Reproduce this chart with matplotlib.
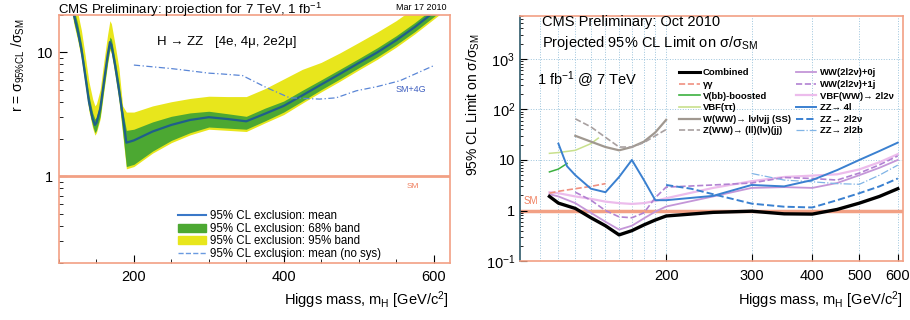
import numpy as np
import matplotlib.pyplot as plt
from matplotlib.lines import Line2D
from matplotlib.patches import Patch
from matplotlib.ticker import FixedLocator, NullFormatter, NullLocator

plt.rcParams['font.family'] = ['Liberation Sans', 'DejaVu Sans']
plt.rcParams['mathtext.default'] = 'regular'

# ---------------- left panel data: H -> ZZ projection ----------------
mass_zz = [115, 120, 125, 130, 135, 140, 145, 148, 150, 155, 160, 165, 168, 170, 175, 180,
           185, 190, 200, 225, 250, 275, 300, 325, 350, 375, 400, 425, 450, 475, 500, 525,
           550, 575, 600, 620]
r_mean = [30, 20, 15, 10.5, 6.5, 4.0, 2.9, 2.6, 2.7, 3.5, 5.8, 9.5, 12.1, 11.5, 7.8, 5.0,
          3.1, 1.87, 1.95, 2.3, 2.6, 2.85, 3.0, 2.9, 2.78, 3.2, 3.7, 4.5, 5.5, 6.7, 8.2, 10.0,
          12.5, 16, 21, 26]
r68_lo = [26, 17.5, 13, 9.2, 5.7, 3.5, 2.55, 2.25, 2.35, 3.05, 5.1, 8.4, 10.8, 10.2, 6.8, 4.3,
          2.3, 1.2, 1.25, 1.6, 1.95, 2.25, 2.5, 2.45, 2.4, 2.8, 3.3, 4.05, 5.0, 6.1, 7.5, 9.2,
          11.5, 14.7, 19.3, 24]
r68_hi = [34, 22.5, 17, 11.8, 7.3, 4.5, 3.25, 2.9, 3.0, 3.9, 6.5, 10.5, 13.3, 12.8, 8.7, 5.7,
          3.4, 2.35, 2.4, 2.75, 3.05, 3.25, 3.35, 3.2, 3.05, 3.55, 4.05, 4.95, 6.0, 7.3, 8.9, 10.9,
          13.6, 17.4, 22.8, 28]
r95_lo = [25, 16.8, 12.5, 8.8, 5.5, 3.35, 2.45, 2.15, 2.25, 2.9, 4.9, 8.1, 10.4, 9.8, 6.5, 4.1,
          2.2, 1.15, 1.2, 1.54, 1.87, 2.16, 2.4, 2.35, 2.3, 2.7, 3.15, 3.9, 4.8, 5.85, 7.2, 8.8,
          11, 14.1, 18.5, 23]
r95_hi = [42, 28, 21, 15, 9.4, 5.8, 4.2, 3.7, 3.85, 5.0, 8.5, 14, 18, 17, 11.5, 7.5,
          3.7, 3.3, 3.3, 3.7, 4.0, 4.25, 4.43, 4.4, 4.4, 5.1, 6.1, 7.3, 8.3, 9.9, 12, 14.6,
          18, 23, 30, 37]
mass_4g = [200, 250, 275, 300, 317, 345, 377, 408, 448, 470, 497, 525, 555, 600]
r_4g = [7.9, 7.4, 7.1, 6.8, 6.7, 6.5, 5.2, 4.3, 4.2, 4.3, 4.9, 5.3, 5.9, 7.8]

# ---------------- right panel data: combined projection ----------------
m_comb = [115, 120, 130, 140, 150, 160, 170, 180, 190, 200, 250, 300, 350, 400, 450, 500, 550, 600]
comb = [1.9, 1.4, 1.1, 0.72, 0.5, 0.33, 0.4, 0.52, 0.65, 0.78, 0.92, 0.97, 0.86, 0.85, 1.05, 1.4, 1.9, 2.7]
m_gg = [115, 120, 125, 130, 135, 140, 145, 150]
gg = [2.2, 2.4, 2.55, 2.7, 2.85, 3.0, 3.2, 3.4]
m_vbb = [115, 120, 125]
vbb = [5.8, 6.6, 8.5]
m_vbftt = [115, 120, 130, 140, 145]
vbftt = [13.5, 14, 15.5, 21, 27]
m_wss = [130, 140, 150, 160, 170, 180, 190, 200]
wss = [30, 23, 18, 15.5, 18, 23, 35, 62]
m_zww = [130, 140, 150, 160, 170, 180, 190, 200]
zww = [65, 45, 28, 18, 18, 22, 30, 40]
m_ww = [115, 120, 130, 140, 150, 160, 170, 180, 190, 200, 250, 300, 350, 400, 450, 500, 550, 600]
ww0j = [2.1, 1.9, 1.4, 0.9, 0.6, 0.42, 0.5, 0.7, 0.95, 1.2, 1.9, 2.8, 2.9, 2.8, 3.5, 5, 7, 10]
vbfww = [2.3, 2.2, 1.9, 1.7, 1.5, 1.4, 1.35, 1.4, 1.55, 1.75, 2.8, 3.8, 4.6, 4.9, 5.2, 6.5, 9, 13]
m_ww1j = [130, 140, 150, 160, 170, 180, 190, 200, 250, 300, 350, 400, 450, 500, 550, 600]
ww1j = [2.3, 1.6, 1.0, 0.75, 0.72, 0.9, 1.8, 2.9, 3.2, 3.5, 4.5, 4.3, 4.0, 5.5, 8, 12]
m_zz4l = [120, 125, 130, 140, 150, 160, 170, 180, 190, 200, 250, 300, 350, 400, 450, 500, 550, 600]
zz4l = [21, 7.5, 5, 2.7, 2.3, 4.6, 10, 4, 1.6, 1.6, 1.95, 3.2, 3.0, 4.0, 6.3, 10, 15, 22]
m_zz2l2v = [200, 225, 250, 300, 350, 400, 450, 500, 550, 600]
zz2l2v = [3.2, 2.7, 2.1, 1.37, 1.19, 1.15, 1.6, 2.2, 3.0, 4.3]
m_zz2l2b = [300, 350, 400, 450, 500, 550, 600]
zz2l2b = [5.4, 4.0, 3.7, 3.4, 3.3, 5.0, 7.9]

grid_x = [110, 120, 130, 140, 150, 160, 170, 180, 190, 200, 300, 400, 500, 600]

salmon = '#f2a084'

fig = plt.figure(figsize=(9.1, 3.2), dpi=100)

# ================= left panel =================
ax = fig.add_axes([0.0648, 0.178, 0.4297, 0.775])
ax.fill_between(mass_zz, r95_lo, r95_hi, color='#e8e61c', lw=0)
ax.fill_between(mass_zz, r68_lo, r68_hi, color='#4ca832', lw=0)
ax.plot(mass_zz, r_mean, color='#1f5f8a', lw=1.6)
ax.plot(mass_4g, r_4g, color='#5a86d6', lw=0.9, ls=(0, (5, 2, 1, 2)))
ax.axhline(1, color=salmon, lw=2)
ax.set_yscale('log')
ax.set_xlim(100, 622)
ax.set_ylim(0.2, 20)
ax.set_xticks([200, 400, 600])
ax.set_xticks(np.arange(100, 601, 50), minor=True)
ax.yaxis.set_major_locator(FixedLocator([1, 10]))
ax.set_yticklabels(['1', '10'])
ax.yaxis.set_minor_formatter(NullFormatter())
ax.tick_params(which='both', direction='in', labelsize=10.5, pad=4)
ax.tick_params(which='major', length=6)
ax.tick_params(which='minor', length=3)
ax.tick_params(axis='x', pad=5)
for s in ax.spines.values():
    s.set_color(salmon)
    s.set_linewidth(1.2)

ax.text(0.25, 0.89, 'H → ZZ', transform=ax.transAxes, fontsize=9.5, va='center')
ax.text(0.40, 0.89, '[4e, 4μ, 2e2μ]', transform=ax.transAxes, fontsize=9.5, va='center')
ax.text(0.86, 0.70, 'SM+4G', transform=ax.transAxes, fontsize=6.5, color='#4060c0', va='center')
ax.text(0.89, 0.31, 'SM', transform=ax.transAxes, fontsize=6, color='#f08060', va='center')

leg_handles = [Line2D([], [], color='#3a78c8', lw=1.5),
               Patch(color='#4ca832'),
               Patch(color='#e8e61c'),
               Line2D([], [], color='#6a9ae0', lw=1, ls='--')]
leg_labels = ['95% CL exclusion: mean', '95% CL exclusion: 68% band',
              '95% CL exclusion: 95% band', '95% CL exclusion: mean (no sys)']
ax.legend(leg_handles, leg_labels, loc='lower left', bbox_to_anchor=(0.285, -0.02),
          frameon=False, fontsize=8.3, labelspacing=0.05, handlelength=2.4,
          handletextpad=0.3, borderpad=0.2)

fig.text(58 / 910, 1 - 10 / 320, 'CMS Preliminary: projection for 7 TeV, 1 fb$^{-1}$',
         fontsize=9.5, va='center')
fig.text(446 / 910, 1 - 8 / 320, 'Mar 17 2010', fontsize=6.5, ha='right', va='center')
fig.text(18 / 910, 1 - 18 / 320, r'r = $\sigma_{95\%CL}$ /$\sigma_{SM}$', rotation=90,
         fontsize=10, ha='center', va='top')
fig.text(449 / 910, 1 - 300 / 320, 'Higgs mass, m$_{H}$ [GeV/c$^{2}$]', fontsize=10.5,
         ha='right', va='center')

# ================= right panel =================
bx = fig.add_axes([0.5714, 0.184, 0.4209, 0.766])
bx.set_xscale('log')
bx.set_yscale('log')
bx.set_xlim(100, 615)
bx.set_ylim(0.1, 7000)
for gx in grid_x:
    bx.axvline(gx, color='#9cc4dc', lw=0.7, ls=':', zorder=0)
for gy in [1, 10, 100, 1000]:
    bx.axhline(gy, color='#9cc4dc', lw=0.7, ls=':', zorder=0)
bx.axhline(1, color=salmon, lw=2.5, zorder=1)

bx.plot(m_vbb, vbb, color='#3cb040', lw=1.1)
bx.plot(m_vbftt, vbftt, color='#c8e08c', lw=1.1)
bx.plot(m_wss, wss, color='#a09890', lw=1.6)
bx.plot(m_zww, zww, color='#a8a0a0', lw=1.2, ls='--')
bx.plot(m_ww, vbfww, color='#ecbcec', lw=1.6)
bx.plot(m_ww, ww0j, color='#c496d8', lw=1.3)
bx.plot(m_ww1j, ww1j, color='#b282d2', lw=1.2, ls='--')
bx.plot(m_gg, gg, color='#f09080', lw=1.2, ls='--')
bx.plot(m_zz2l2b, zz2l2b, color='#80b4e6', lw=0.9, ls='-.')
bx.plot(m_zz2l2v, zz2l2v, color='#3a80d0', lw=1.4, ls='--')
bx.plot(m_zz4l, zz4l, color='#3a80d0', lw=1.4)
bx.plot(m_comb, comb, color='black', lw=2.4)

bx.xaxis.set_major_locator(FixedLocator([200, 300, 400, 500, 600]))
bx.set_xticklabels(['200', '300', '400', '500', '600'])
bx.xaxis.set_minor_locator(NullLocator())
bx.yaxis.set_major_locator(FixedLocator([0.1, 1, 10, 100, 1000]))
bx.set_yticklabels(['$10^{-1}$', '1', '10', '$10^{2}$', '$10^{3}$'])
bx.yaxis.set_minor_formatter(NullFormatter())
bx.tick_params(which='both', direction='in', labelsize=10.5)
bx.tick_params(which='major', length=5)
bx.tick_params(which='minor', length=2.5)
bx.tick_params(axis='x', pad=6)
for side, s in bx.spines.items():
    s.set_color('#2f5a6a' if side == 'left' else salmon)
    s.set_linewidth(1.2)

bx.text(0.057, 0.975, 'CMS Preliminary: Oct 2010', transform=bx.transAxes, fontsize=10.5,
        va='center')
bx.text(0.057, 0.888, r'Projected 95% CL Limit on $\sigma$/$\sigma_{SM}$',
        transform=bx.transAxes, fontsize=10.5, va='center')
bx.text(0.044, 0.739, '1 fb$^{-1}$ @ 7 TeV', transform=bx.transAxes, fontsize=10.5,
        va='center')
bx.text(0.01, 0.245, 'SM', transform=bx.transAxes, fontsize=7, color='#f08060', va='center')

r_handles = [Line2D([], [], color='black', lw=2.2),
             Line2D([], [], color='#f09080', lw=1.2, ls='--'),
             Line2D([], [], color='#3cb040', lw=1.2),
             Line2D([], [], color='#c8e08c', lw=1.2),
             Line2D([], [], color='#a09890', lw=1.6),
             Line2D([], [], color='#a8a0a0', lw=1.2, ls='--'),
             Line2D([], [], color='#c496d8', lw=1.3),
             Line2D([], [], color='#b282d2', lw=1.2, ls='--'),
             Line2D([], [], color='#ecbcec', lw=1.6),
             Line2D([], [], color='#3a80d0', lw=1.4),
             Line2D([], [], color='#3a80d0', lw=1.4, ls='--'),
             Line2D([], [], color='#80b4e6', lw=0.9, ls='-.')]
r_labels = ['Combined', 'γγ', 'V(bb)-boosted', 'VBF(ττ)', 'W(WW)→ lνlνjj (SS)',
            'Z(WW)→ (ll)(lν)(jj)', 'WW(2l2ν)+0j', 'WW(2l2ν)+1j', 'VBF(WW)→ 2l2ν',
            'ZZ→ 4l', 'ZZ→ 2l2ν', 'ZZ→ 2l2b']
bx.legend(r_handles, r_labels, ncol=2, loc='upper left', bbox_to_anchor=(0.4, 0.81),
          frameon=False, prop={'size': 6.8, 'weight': 'bold'}, labelspacing=0.28,
          handlelength=2.2, handletextpad=0.35, columnspacing=0.5, borderpad=0.1)

fig.text(473 / 910, 1 - 33 / 320, r'95% CL Limit on $\sigma$/$\sigma_{SM}$', rotation=90,
         fontsize=10, ha='center', va='top')
fig.text(903 / 910, 1 - 300 / 320, 'Higgs mass, m$_{H}$ [GeV/c$^{2}$]', fontsize=10.5,
         ha='right', va='center')

fig.savefig('out.png', dpi=100)
